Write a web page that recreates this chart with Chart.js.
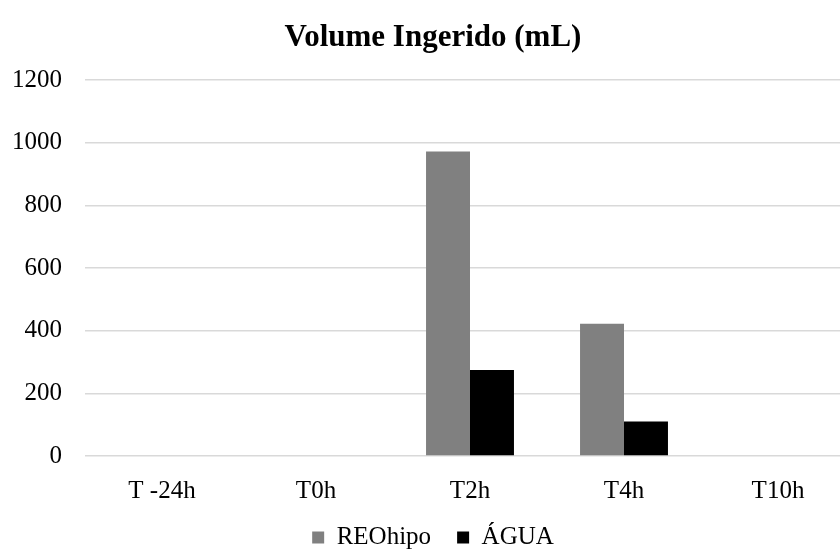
<!DOCTYPE html>
<html>
<head>
<meta charset="utf-8">
<script src="https://cdn.jsdelivr.net/npm/chart.js@4.4.1/dist/chart.umd.min.js"></script>
<style>
  html, body { margin: 0; padding: 0; background: #ffffff; overflow: hidden; width: 840px; height: 550px; }
  #wrap { position: absolute; left: 0; top: 0; width: 872px; height: 560px; }
</style>
</head>
<body>
<div id="wrap"><canvas id="c" width="872" height="560"></canvas></div>
<script>
const categories = ["T -24h", "T0h", "T2h", "T4h", "T10h"];
const reoHipo = [0, 0, 972, 422, 0];
const agua = [0, 0, 275, 110, 0];
const yTicks = [0, 200, 400, 600, 800, 1000, 1200];

const serif = "'Liberation Serif', 'Times New Roman', 'DejaVu Serif', serif";

new Chart(document.getElementById('c'), {
  type: 'bar',
  data: {
    labels: categories,
    datasets: [
      { label: 'REOhipo', data: reoHipo, backgroundColor: '#808080', borderWidth: 0,
        categoryPercentage: 0.571, barPercentage: 1.0 },
      { label: 'ÁGUA', data: agua, backgroundColor: '#000000', borderWidth: 0,
        categoryPercentage: 0.571, barPercentage: 1.0 }
    ]
  },
  options: {
    responsive: false,
    animation: false,
    devicePixelRatio: 1,
    layout: { padding: { top: 19, left: 11, right: 17, bottom: 0 } },
    plugins: {
      title: {
        display: true,
        text: 'Volume Ingerido (mL)',
        color: '#000000',
        font: { family: serif, size: 31, weight: 'bold' },
        padding: { top: 0, bottom: 24 }
      },
      legend: {
        display: true,
        position: 'bottom',
        labels: {
          color: '#000000',
          font: { family: serif, size: 25 },
          boxWidth: 12,
          boxHeight: 12,
          padding: 26
        }
      },
      tooltip: { enabled: false }
    },
    scales: {
      x: {
        grid: { display: false, drawTicks: false },
        border: { display: false },
        ticks: { color: '#000000', font: { family: serif, size: 25 }, padding: 20, maxRotation: 0 },
        afterFit: function (s) { s.height = 43; }
      },
      y: {
        min: 0,
        max: 1200,
        afterBuildTicks: function (s) { s.ticks = yTicks.map(v => ({ value: v })); },
        grid: { color: '#d9d9d9', lineWidth: 1.5, drawTicks: false },
        border: { display: false },
        ticks: {
          color: '#000000', font: { family: serif, size: 25 }, padding: 23,
          callback: function (v) { return String(v); }
        },
        afterFit: function (s) { s.width = 74; }
      }
    }
  }
});
</script>
</body>
</html>
